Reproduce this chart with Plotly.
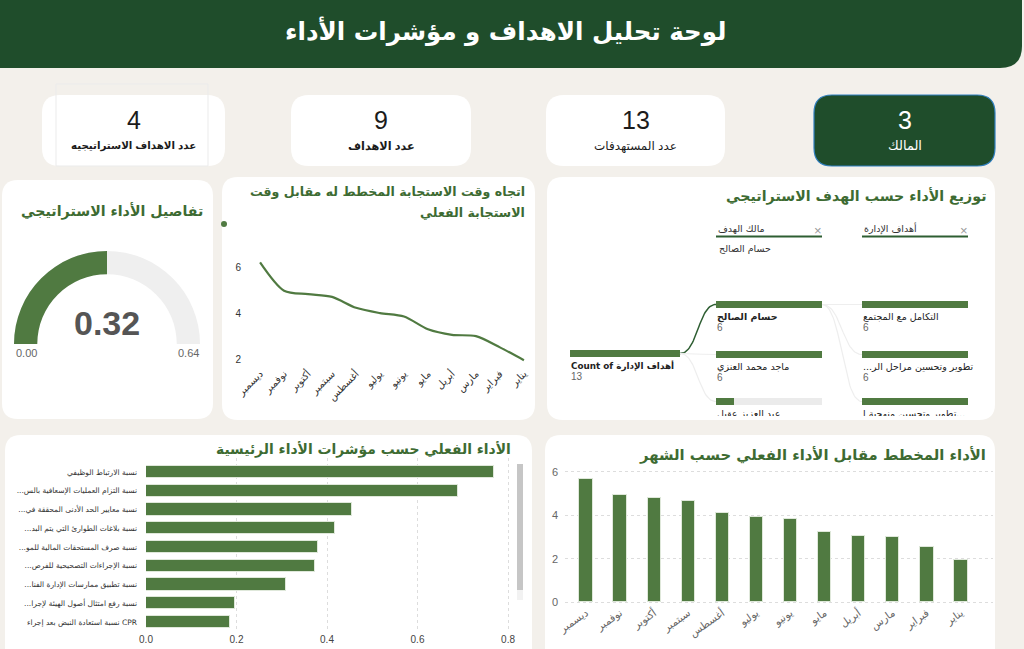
import numpy as np
import plotly.graph_objects as go

W, H = 1024, 649

# ---------------- data ----------------
months = ["يناير", "فبراير", "مارس", "أبريل", "مايو", "يونيو",
          "يوليو", "أغسطس", "سبتمبر", "أكتوبر", "نوفمبر", "ديسمبر"]
response_trend = [1.95, 2.51, 3.00, 3.06, 3.30, 3.86, 4.01, 4.24, 4.72, 4.84, 4.99, 6.23]
monthly_actual = [1.92, 2.52, 3.02, 3.06, 3.22, 3.82, 3.94, 4.11, 4.66, 4.78, 4.92, 5.68]

kpi_names = [
    "نسبة الارتباط الوظيفي",
    "...نسبة التزام العمليات الإسعافية بالس",
    "...نسبة معايير الحد الأدنى المحققة في",
    "...نسبة بلاغات الطوارئ التي يتم البد",
    "...نسبة صرف المستحقات المالية للمو",
    "...نسبة الإجراءات التصحيحية للفرص",
    "...نسبة تطبيق ممارسات الإدارة الفنا",
    "...نسبة رفع امتثال أصول الهيئة لإجرا",
    "نسبة استعادة النبض بعد إجراء CPR",
]
kpi_values = [0.77, 0.69, 0.456, 0.417, 0.381, 0.373, 0.309, 0.196, 0.185]

gauge_value = 0.32
gauge_min = 0.00
gauge_max = 0.64

card_values = ["3", "13", "9", "4"]
card_labels = ["المالك", "عدد المستهدفات", "عدد الاهداف", "عدد الاهداف الاستراتيجيه"]

tree_root_label = "Count of أهداف الإدارة"
tree_root_value = 13
owner_header = "مالك الهدف"
owner_selected = "حسام الصالح"
owner_names = ["حسام الصالح", "ماجد محمد العنزي", "عبد العزيز عقيل"]
owner_values = [6, 6, 1]
goal_header = "أهداف الإدارة"
goal_names = ["التكامل مع المجتمع", "...تطوير وتحسين مراحل الر", "تطوير وتحسين منهجية ا..."]
goal_values = [6, 6, 6]

# ---------------- colours ----------------
BG = "#f3f0eb"
DARK = "#1f4d2b"
BAR = "#507a41"
TITLE = "#3d6b32"
AR = "DejaVu Sans"
LAT = "Liberation Sans, DejaVu Sans"


def px(x):
    return x / W


def py(y):
    return 1 - y / H


def dom_x(a, b):
    return [a / W, b / W]


def dom_y(top, bottom):
    return [1 - bottom / H, 1 - top / H]


def rrect(x0, y0, x1, y1, r, fill, line=None, lw=0):
    p = (f"M {px(x0 + r)},{py(y0)} L {px(x1 - r)},{py(y0)} "
         f"Q {px(x1)},{py(y0)} {px(x1)},{py(y0 + r)} L {px(x1)},{py(y1 - r)} "
         f"Q {px(x1)},{py(y1)} {px(x1 - r)},{py(y1)} L {px(x0 + r)},{py(y1)} "
         f"Q {px(x0)},{py(y1)} {px(x0)},{py(y1 - r)} L {px(x0)},{py(y0 + r)} "
         f"Q {px(x0)},{py(y0)} {px(x0 + r)},{py(y0)} Z")
    return dict(type="path", path=p, xref="paper", yref="paper", fillcolor=fill,
                line=dict(color=line or fill, width=lw), layer="below")


def note(x, y, text, size, color, anchor="center", family=AR, weight="normal"):
    return dict(x=px(x), y=py(y), xref="paper", yref="paper", text=text, showarrow=False,
                xanchor=anchor, yanchor="middle",
                font=dict(size=size, color=color, family=family, weight=weight))


shapes = []
annotations = []

# header
shapes.append(rrect(-30, -30, 1022, 68, 22, DARK))
annotations.append(note(505, 31, "لوحة تحليل الاهداف و مؤشرات الأداء", 24.5, "white", weight="bold"))

# KPI cards
card_boxes = [(814, 95, 995, 166), (546, 95, 725, 166), (291, 95, 471, 166), (42, 95, 225, 166)]
label_sizes = [13, 12, 11.3, 10.3]
for i, (x0, y0, x1, y1) in enumerate(card_boxes):
    first = i == 0
    shapes.append(rrect(x0, y0, x1, y1, 18, DARK if first else "white",
                        line="#2f7fbf" if first else None, lw=1.2 if first else 0))
    cx = (x0 + x1) / 2
    col = "white" if first else "#1b1b1b"
    annotations.append(note(cx, 120, card_values[i], 25, col, family=LAT))
    annotations.append(note(cx, 146, card_labels[i], label_sizes[i], col, family=LAT,
                            weight="bold" if i >= 2 else "normal"))
shapes.append(dict(type="rect", xref="paper", yref="paper", x0=px(56), x1=px(208),
                   y0=py(166), y1=py(84), line=dict(color="#ebebeb", width=1), layer="below"))

# panels
shapes.append(rrect(2, 180, 213, 419, 16, "white"))
shapes.append(rrect(222, 177, 535, 420, 16, "white"))
shapes.append(rrect(547, 177, 995, 420, 16, "white"))
shapes.append(rrect(5, 435, 532, 665, 16, "white"))
shapes.append(rrect(545, 435, 995, 665, 16, "white"))

# panel titles
annotations.append(note(205, 211, "تفاصيل الأداء الاستراتيجي", 14.2, TITLE, anchor="right", weight="bold"))
annotations.append(note(527, 191, "اتجاه وقت الاستجابة المخطط له مقابل وقت", 12.6, TITLE, anchor="right", weight="bold"))
annotations.append(note(527, 213, "الاستجابة الفعلي", 12.6, TITLE, anchor="right", weight="bold"))
annotations.append(note(988, 196, "توزيع الأداء حسب الهدف الاستراتيجي", 14.2, TITLE, anchor="right", weight="bold"))
annotations.append(note(513, 449, "الأداء الفعلي حسب مؤشرات الأداء الرئيسية", 13.9, TITLE, anchor="right", weight="bold"))
annotations.append(note(988, 455, "الأداء المخطط مقابل الأداء الفعلي حسب الشهر", 14.8, TITLE, anchor="right", weight="bold"))

# small dot on line panel and scrollbar on KPI panel
shapes.append(dict(type="circle", xref="paper", yref="paper", x0=px(221), x1=px(227),
                   y0=py(227), y1=py(221), fillcolor=BAR, line=dict(width=0)))
shapes.append(dict(type="rect", xref="paper", yref="paper", x0=px(517), x1=px(523),
                   y0=py(600), y1=py(464), fillcolor="#f2f2f2", line=dict(width=0)))
shapes.append(dict(type="rect", xref="paper", yref="paper", x0=px(517), x1=px(523),
                   y0=py(590), y1=py(464), fillcolor="#c6c6c6", line=dict(width=0)))

fig = go.Figure()

# ---------------- gauge ----------------
fig.add_trace(go.Indicator(
    mode="gauge", value=gauge_value,
    domain=dict(x=dom_x(14, 200), y=dom_y(249, 346)),
    gauge=dict(axis=dict(range=[gauge_min, gauge_max], visible=False),
               bar=dict(color=BAR, thickness=1),
               bgcolor="#efefef", borderwidth=0),
))
annotations.append(note(107, 323, f"{gauge_value:.2f}", 34, "#555555", family=LAT, weight="bold"))
annotations.append(note(14, 353, f"{gauge_min:.2f}", 11, "#666666", anchor="left", family=LAT))
annotations.append(note(201, 353, f"{gauge_max:.2f}", 11, "#666666", anchor="right", family=LAT))

# ---------------- line chart ----------------
fig.add_trace(go.Scatter(x=months, y=response_trend, mode="lines",
                         line=dict(color=BAR, width=2.2, shape="spline", smoothing=0.8),
                         xaxis="x", yaxis="y", hoverinfo="x+y"))

# ---------------- KPI bars ----------------
fig.add_trace(go.Bar(x=kpi_values, y=kpi_names, orientation="h", width=0.66,
                     marker=dict(color=BAR, line=dict(color="#dfe8da", width=1)),
                     xaxis="x2", yaxis="y2"))

# ---------------- monthly bars ----------------
fig.add_trace(go.Bar(x=months, y=monthly_actual, width=0.39,
                     marker=dict(color=BAR, line=dict(color="#dfe8da", width=1)),
                     xaxis="x3", yaxis="y3"))

# ---------------- decomposition tree ----------------
col_x = [570, 716, 862]
col_w = [110, 106, 106]
root_y = 353.5
row_y = [304.5, 354.5, 401.5]
levels = [
    ([tree_root_label], [tree_root_value], [root_y]),
    (owner_names, owner_values, row_y),
    (goal_names, goal_values, row_y),
]
for li, (names, vals, ys) in enumerate(levels):
    mx = max(vals)
    fig.add_trace(go.Bar(x=[col_w[li]] * len(vals), base=[col_x[li]] * len(vals), y=ys,
                         orientation="h", width=7, marker=dict(color="#ebebeb", line=dict(width=0)),
                         xaxis="x4", yaxis="y4", hoverinfo="skip"))
    fig.add_trace(go.Bar(x=[col_w[li] * v / mx for v in vals], base=[col_x[li]] * len(vals), y=ys,
                         orientation="h", width=7, marker=dict(color=BAR, line=dict(width=0)),
                         xaxis="x4", yaxis="y4", hoverinfo="skip"))
    bold = [li == 0 or (li == 1 and n == owner_selected) for n in names]
    fig.add_trace(go.Scatter(x=[col_x[li] + 1] * len(vals), y=[y + 13.5 for y in ys],
                             text=[f"<b>{n}</b>" if b else n for n, b in zip(names, bold)],
                             mode="text", textposition="middle right", cliponaxis=True,
                             textfont=dict(size=8.8 if li == 0 else 9.5, color="#222222", family=AR),
                             xaxis="x4", yaxis="y4", hoverinfo="skip"))
    fig.add_trace(go.Scatter(x=[col_x[li] + 1] * len(vals), y=[y + 24 for y in ys],
                             text=[str(v) for v in vals],
                             mode="text", textposition="middle right", cliponaxis=True,
                             textfont=dict(size=10, color="#666666", family=LAT),
                             xaxis="x4", yaxis="y4", hoverinfo="skip"))


def link(x0, y0, x1, y1, color, width):
    t = np.linspace(0, 1, 40)
    xm = (x0 + x1) / 2
    bx = (1 - t) ** 3 * x0 + 3 * (1 - t) ** 2 * t * xm + 3 * (1 - t) * t ** 2 * xm + t ** 3 * x1
    by = (1 - t) ** 3 * y0 + 3 * (1 - t) ** 2 * t * y0 + 3 * (1 - t) * t ** 2 * y1 + t ** 3 * y1
    fig.add_trace(go.Scatter(x=bx, y=by, mode="lines", line=dict(color=color, width=width),
                             xaxis="x4", yaxis="y4", hoverinfo="skip", cliponaxis=True))


sel = owner_names.index(owner_selected)
for i, y in enumerate(row_y):
    link(col_x[0] + col_w[0], root_y, col_x[1], y, "#2e5e32" if i == sel else "#eeeeee",
         1.5 if i == sel else 1.2)
for y in row_y:
    link(col_x[1] + col_w[1], row_y[sel], col_x[2], y, "#eeeeee", 1.2)

for cx, cw, head in [(col_x[1], col_w[1], owner_header), (col_x[2], col_w[2], goal_header)]:
    annotations.append(note(cx, 228, head, 9.5, "#333333", anchor="left"))
    annotations.append(note(cx + cw - 4, 231, "×", 13, "#999999", family=LAT))
    shapes.append(dict(type="line", xref="paper", yref="paper", x0=px(cx), x1=px(cx + cw),
                       y0=py(236.5), y1=py(236.5), line=dict(color="#2e5e32", width=2)))
annotations.append(note(col_x[1] + 1, 249, owner_selected, 9.5, "#333333", anchor="left"))

# ---------------- layout ----------------
fig.update_layout(
    width=W, height=H, margin=dict(l=0, r=0, t=0, b=0, pad=0, autoexpand=False),
    paper_bgcolor=BG, plot_bgcolor="rgba(0,0,0,0)", showlegend=False,
    shapes=shapes, annotations=annotations, bargap=0,
    barmode="overlay",
    xaxis=dict(domain=dom_x(250, 534), anchor="y", type="category", categoryorder="array",
               categoryarray=months, range=[11.42, -0.42], tickangle=-45,
               showgrid=False, zeroline=False, showline=False, ticks="",
               tickfont=dict(size=10, color="#333333", family=AR)),
    yaxis=dict(domain=dom_y(255, 365), anchor="x", range=[1.74, 6.55], tickvals=[2, 4, 6],
               showgrid=False, zeroline=False, ticks="", ticklabelstandoff=8,
               tickfont=dict(size=10, color="#333333", family=LAT)),
    xaxis2=dict(domain=dom_x(146, 512), anchor="y2", range=[0, 0.8088], dtick=0.2, tickformat=".1f",
                showgrid=True, gridcolor="#dddddd", griddash="dot", zeroline=False, ticks="",
                tickfont=dict(size=10, color="#444444", family=LAT)),
    yaxis2=dict(domain=dom_y(458, 632), anchor="x2", type="category", categoryorder="array",
                categoryarray=kpi_names, range=[8.53, -0.747], showgrid=False, ticks="",
                ticklabelstandoff=8, tickfont=dict(size=7.5, color="#333333", family=AR)),
    xaxis3=dict(domain=dom_x(565, 993), anchor="y3", type="category", categoryorder="array",
                categoryarray=months, range=[11.616, -0.938], tickangle=-35,
                showgrid=False, zeroline=False, ticks="",
                tickfont=dict(size=10.5, color="#666666", family=AR)),
    yaxis3=dict(domain=dom_y(462, 604), anchor="x3", range=[-0.092, 6.46], tickvals=[0, 2, 4, 6],
                showgrid=True, gridcolor="#dddddd", griddash="dot", zeroline=False, ticks="",
                ticklabelstandoff=6, tickfont=dict(size=11, color="#666666", family=LAT)),
    xaxis4=dict(domain=dom_x(547, 995), anchor="y4", range=[547, 995], visible=False, fixedrange=True),
    yaxis4=dict(domain=dom_y(178, 416), anchor="x4", range=[416, 178], visible=False, fixedrange=True),
)

fig.write_html("out.html", config={"displayModeBar": False},
               post_script="document.body.style.margin='0px';"
               "document.body.style.background='" + BG + "';")
